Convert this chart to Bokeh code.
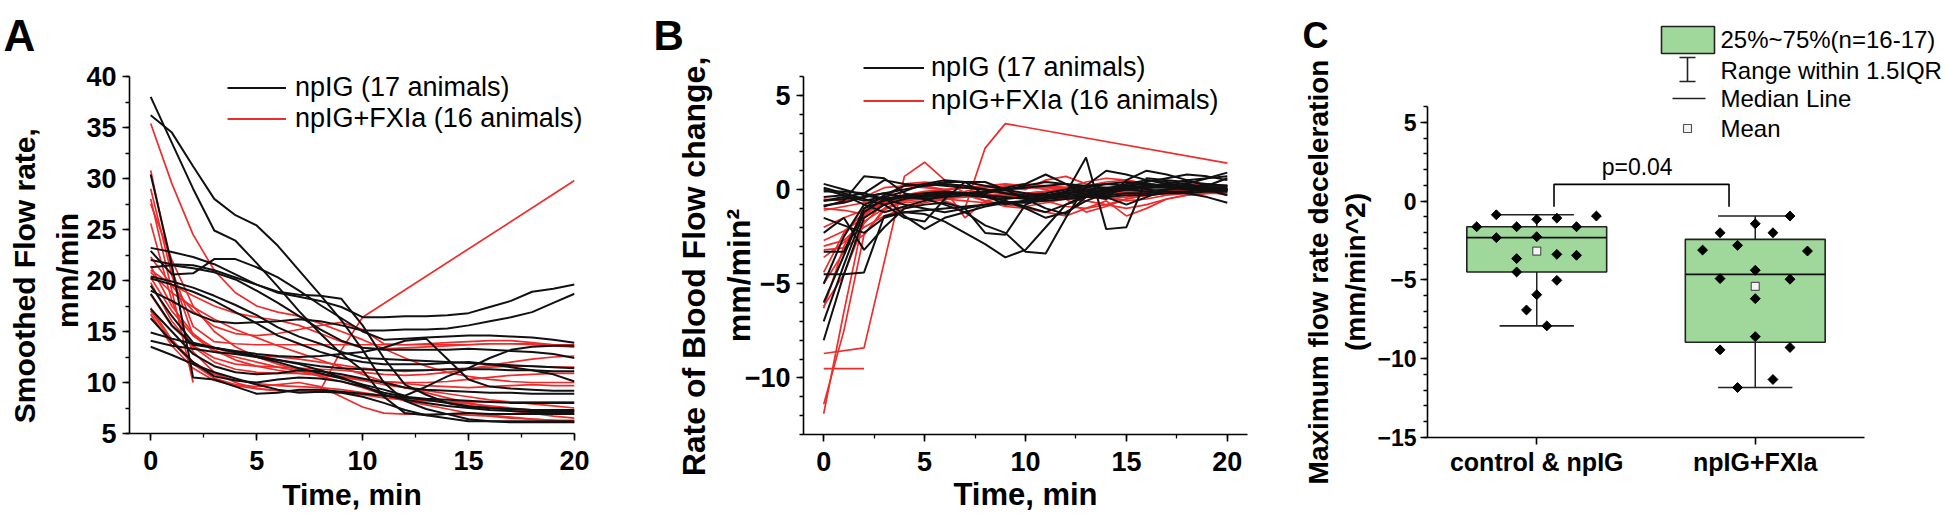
from bokeh.plotting import figure
from bokeh.models import (Range1d, FixedTicker, SingleIntervalTicker, Legend, LegendItem, GridBox)
from bokeh.embed import file_html
from bokeh.resources import INLINE
from bokeh.core.properties import value
import math

FONT = "Liberation Sans"
BLACK = "#111111"
RED = "#ee2c2c"
GREEN = "#a0d89b"
N = None

minutes = list(range(21))

# ---------- Panel A: smoothed flow rate (mm/min) ----------
flow_npig = [
    [38.0, 33.5, 29.0, 24.9, 23.9, 21.7, 19.4, 17.0, 14.8, 12.8, 11.2, 8.6, 7.0, 6.8, 6.9, 7.0, 6.9, 6.9, 6.9, 6.9, 6.9],
    [36.2, 34.5, 31.2, 28.0, 26.4, 25.4, 23.4, 21.0, 18.6, 16.1, 13.2, 10.0, 8.2, 7.4, 6.9, 6.4, 6.2, 6.1, 6.1, 6.1, 6.1],
    [30.4, 21.5, 10.5, 10.3, 9.6, 8.9, 9.0, 9.3, 9.3, 9.1, 8.9, 8.7, 8.5, 8.3, 8.0, 7.7, 7.5, 7.4, 7.3, 7.2, 7.2],
    [23.2, 22.8, 22.3, 21.6, 20.6, 19.6, 18.9, 18.6, 18.5, 18.2, 15.6, 12.4, 9.8, 8.8, 8.0, 7.6, 7.5, 7.4, 7.3, 7.3, 7.3],
    [22.0, 21.6, 21.5, 21.0, 20.3, 19.6, 18.8, 18.4, 18.0, 17.4, 16.4, 16.4, 16.5, 16.5, 16.6, 16.8, 17.4, 18.0, 18.9, 19.2, 19.6],
    [19.0, 18.0, 16.8, 16.0, 15.8, 15.9, 16.0, 16.2, 16.0, 15.6, 15.1, 15.1, 15.2, 15.2, 15.3, 15.6, 16.0, 16.4, 16.9, 17.8, 18.7],
    [22.9, 20.6, 20.7, 22.1, 22.1, 21.3, 20.3, 19.0, 17.6, 16.3, 15.0, 14.2, 14.3, 14.4, 14.5, 14.6, 14.6, 14.5, 14.4, 14.2, 13.9],
    [21.3, 21.5, 21.2, 20.8, 20.1, 19.0, 17.8, 16.5, 15.2, 14.1, 13.4, 13.2, 13.2, 13.2, 13.2, 13.3, 13.2, 13.1, 13.0, 12.8, 12.4],
    [20.4, 19.9, 19.3, 18.5, 17.6, 16.6, 15.4, 14.5, 13.8, 13.0, 12.4, 12.3, 12.2, 12.1, 12.0, 11.9, 11.8, 11.7, 11.6, 11.5, 11.4],
    [20.2, 19.6, 18.9, 18.0, 16.9, 15.8, 14.6, 13.8, 13.0, 12.4, 12.0, 11.8, 11.8, 11.8, 11.9, 12.0, 11.8, 11.5, 11.2, 10.8, 10.1],
    [19.5, 16.5, 13.9, 13.4, 13.0, 12.5, 12.0, 11.4, 10.9, 10.4, 9.8, 9.3, 8.7, 9.6, 10.6, 11.4, 12.4, 13.2, 13.5, 13.6, 13.6],
    [18.7, 15.6, 13.7, 13.4, 13.1, 12.8, 12.6, 12.5, 12.6, 12.8, 13.0, 13.4, 14.1, 14.3, 12.3, 10.3, 9.6, 9.4, 9.3, 9.2, 9.2],
    [17.2, 15.0, 12.8, 11.6, 11.0, 10.8, 10.9, 11.2, 11.1, 10.8, 10.4, 10.0, 9.5, 9.3, 9.2, 9.1, 9.0, 9.0, 8.9, 8.9, 8.9],
    [16.3, 14.0, 12.0, 10.6, 10.2, 10.0, 10.3, 10.5, 10.4, 10.1, 9.6, 9.0, 8.6, 8.4, 8.3, 8.2, 8.1, 8.0, 8.0, 8.0, 8.0],
    [14.9, 14.3, 13.8, 13.4, 13.0, 12.6, 12.2, 11.8, 11.2, 10.5, 9.7, 8.8, 8.3, 8.0, 7.7, 7.5, 7.3, 7.2, 7.1, 7.1, 7.1],
    [14.1, 13.6, 13.3, 13.0, 12.8, 12.5, 12.2, 11.9, 11.6, 11.4, 11.3, 11.2, 11.2, 11.2, 11.3, 11.3, 11.3, 11.2, 11.2, 11.1, 11.1],
    [13.5, 12.7, 11.8, 11.0, 10.4, 9.8, 9.3, 9.0, 9.1, 9.0, 8.6, 8.0, 7.3, 6.8, 6.5, 6.2, 6.2, 6.2, 6.2, 6.2, 6.2],
]
flow_fxia = [
    [35.4, 29.5, 24.5, 21.0, 18.8, 17.5, 16.9, 16.5, 15.8, 15.0, 14.2, 13.3, 12.4, 11.6, 11.0, 10.6, 10.3, 10.1, 10.0, 10.0, 10.0],
    [28.0, 19.0, 10.0, N, N, N, N, N, N, N, N, N, N, N, N, N, N, N, N, N, N],
    [30.8, 21.0, 15.5, 14.0, 13.8, 13.7, 13.7, 13.7, 13.7, 13.7, 13.7, 13.7, 13.7, 13.7, 13.7, 13.7, 13.8, 13.8, 13.8, 13.7, 13.7],
    [29.0, 20.5, 14.6, 13.0, 12.5, 12.0, 11.5, 11.1, 10.8, 10.5, 10.2, 9.8, 9.5, 9.2, 8.9, 8.6, 8.3, 8.1, 7.9, 7.7, 7.5],
    [25.6, 18.0, 13.0, 11.0, 10.0, 9.4, 9.2, 9.1, 9.2, 13.2, 16.4, N, N, N, N, N, N, N, N, N, 29.8],
    [27.5, 22.0, 17.5, 15.0, 13.5, 12.5, 11.8, 11.2, 10.6, 10.1, 9.5, 8.8, 8.2, 7.8, 7.4, 7.0, 6.8, 6.6, 6.4, 6.3, 6.3],
    [22.3, 19.5, 17.0, 15.5, 14.8, 14.6, 14.8, 15.2, 15.6, 15.9, 15.2, 13.8, 13.7, 13.8, 13.9, 14.0, 14.1, 14.1, 13.9, 13.7, 13.5],
    [21.4, 17.5, 14.8, 13.2, 12.2, 11.6, 11.2, 10.9, 10.7, 10.5, 10.3, 10.1, 9.9, 9.7, 9.6, 9.5, 9.6, 9.7, 9.8, 9.7, 9.7],
    [20.8, 18.8, 17.4, 16.2, 15.2, 14.4, 13.6, 12.9, 12.2, 11.5, 10.8, 10.1, 9.5, 9.0, 8.5, 8.0, 7.6, 7.2, 7.0, 6.7, 6.5],
    [20.3, 17.0, 14.6, 13.4, 12.8, 12.6, 12.5, 12.3, 12.0, 11.7, 11.4, 11.2, 11.1, 11.2, 11.3, 11.4, 11.5, 11.6, 11.6, 11.5, 11.5],
    [19.8, 16.0, 13.5, 12.0, 11.3, 11.0, 10.9, 10.9, 10.8, 10.6, 10.3, 10.1, 10.0, 10.0, 10.1, 10.3, 10.5, 10.7, 10.8, 10.9, 10.9],
    [18.6, 15.5, 13.6, 12.4, 11.8, 11.6, 11.5, 11.4, 11.3, 11.2, 11.0, 10.8, 10.7, 10.8, 11.0, 11.3, 11.7, 12.0, 12.3, 12.5, 12.6],
    [17.3, 14.2, 12.0, 10.8, 10.2, 9.9, 9.7, 9.6, 9.5, 9.3, 9.0, 8.7, 8.5, 8.3, 8.1, 7.9, 7.7, 7.5, 7.3, 7.1, 6.9],
    [17.0, 14.0, 11.8, 10.4, 9.8, 9.6, 9.8, 10.0, 9.6, 8.6, 7.6, 7.0, 6.9, 6.9, 6.9, 6.8, 6.7, 6.5, 6.4, 6.3, 6.1],
    [16.7, 13.6, 11.4, 10.2, 9.7, 9.4, 9.2, 9.2, 9.1, 9.0, 8.8, 8.5, 8.3, 8.2, 8.1, 8.1, 8.1, 8.1, 8.1, 8.1, 8.1],
    [21.0, 19.6, 18.5, 17.5, 16.8, 16.4, 16.1, 15.6, 14.8, 14.0, 13.4, 13.3, 13.4, 13.5, 13.6, 13.7, 13.8, 13.8, 13.7, 13.6, 13.5],
]

# ---------- Panel B: rate of blood flow change (mm/min^2) ----------
rate_npig = [
    [-8.0, -4.5, -1.5, -0.8, -0.5, -0.3, -0.2, -0.3, -0.4, -0.5, -0.4, -0.3, -0.2, -0.1, 0.0, 0.1, 0.2, 0.2, 0.1, 0.0, 0.0],
    [-7.0, -4.0, -1.2, -0.5, -0.3, -0.2, -0.1, -0.2, -0.3, -0.4, -0.5, -0.4, -0.3, -0.2, -0.1, 0.0, 0.1, 0.1, 0.0, -0.1, -0.1],
    [-6.0, -3.5, -1.0, -0.6, -0.4, -0.4, -0.3, -0.2, -0.1, 0.0, 0.1, 0.2, 0.3, 0.2, 0.1, 0.0, -0.1, 0.0, 0.1, 0.2, 0.2],
    [-5.0, -2.5, -0.8, -0.4, -1.4, -2.1, -1.5, -1.2, -0.9, -0.7, -0.6, -0.5, -0.4, -0.3, -0.3, -0.2, -0.2, -0.1, -0.1, 0.0, 0.0],
    [-4.5, -4.5, -4.4, -1.4, -1.2, -1.1, -1.0, -0.9, -0.8, -0.7, -0.7, -0.6, -0.5, -0.4, -0.4, -0.3, -0.3, -0.2, -0.2, -0.1, -0.1],
    [-3.3, -3.3, -1.0, -0.3, 0.2, 0.3, 0.2, 0.1, 0.0, -0.2, -0.4, -0.3, -0.1, 0.1, 0.3, 0.4, 0.3, 0.2, 0.1, 0.0, 0.0],
    [-2.3, -1.5, -3.2, -2.0, -1.0, -0.8, -0.7, -1.0, -2.3, -2.4, -0.8, -0.4, -0.2, 0.0, 0.1, 0.2, 0.3, 0.2, 0.1, 0.0, 0.0],
    [-1.5, -1.9, -2.3, -1.5, -1.2, -1.3, -1.7, -2.3, -2.9, -3.6, -3.2, -2.0, -0.8, -0.3, 0.0, 0.3, 0.5, 0.4, 0.3, 0.1, 0.0],
    [-0.9, -0.6, 0.7, 0.6, -0.2, -0.5, -0.8, -1.2, -1.9, -2.3, -3.3, -3.4, -1.5, 0.2, 1.0, 0.8, 0.5, 0.3, 0.2, 0.1, 0.1],
    [-0.6, -0.4, -0.2, 0.5, 0.3, 0.2, 0.4, 0.4, -0.3, -0.8, -0.6, -0.5, -0.2, 1.7, -2.1, -2.0, 0.6, 0.5, 0.4, 0.3, 0.2],
    [0.3, 0.0, -0.3, -0.5, -0.4, -0.3, -0.2, -0.2, -0.1, 0.1, 0.3, 0.8, 0.3, -0.3, -0.5, 0.5, 1.0, 0.8, 0.5, 0.2, 0.6],
    [0.1, -0.2, -0.5, -0.8, -1.5, -1.7, -0.5, 0.4, 0.4, 0.0, -0.5, -1.0, -1.3, -0.4, 0.0, 0.2, 0.4, 0.6, 0.8, 0.7, 0.5],
    [-0.4, -0.3, -0.8, -1.2, -0.9, -0.6, -0.3, -0.2, -0.4, -0.6, -0.9, -1.2, -0.8, -0.4, -0.2, 0.0, 0.1, 0.2, 0.1, 0.0, -0.3],
    [-0.6, -0.5, -0.4, -0.2, 0.0, 0.2, 0.3, 0.2, 0.0, -0.2, -0.3, -0.2, 0.0, 0.2, 0.3, 0.2, 0.0, -0.1, -0.2, -0.4, -0.7],
    [-0.85, -0.7, -0.4, -0.2, -0.4, -0.5, -0.4, -0.3, -0.2, 0.0, 0.2, 0.4, 0.3, 0.0, -0.4, -0.8, -0.4, 0.0, 0.3, 0.6, 0.9],
    [-0.1, -0.1, -0.2, -0.5, -0.8, -1.0, -1.2, -1.0, -0.8, -0.6, -1.0, -1.5, -1.2, -0.6, -0.2, 0.0, 0.1, 0.2, 0.2, 0.2, 0.2],
    [0.0, -0.3, -0.6, -0.4, -0.1, 0.3, 0.5, 0.4, 0.2, 0.0, -0.2, -0.3, -0.4, -0.3, -0.1, 0.1, 0.2, 0.3, 0.5, 0.6, 0.7],
]
rate_fxia = [
    [-11.9, -6.5, -1.4, -0.6, -0.3, -0.2, -0.2, -0.3, -0.4, -0.3, -0.2, -0.1, 0.0, 0.0, -0.1, -0.2, -0.3, -0.2, -0.1, 0.0, 0.0],
    [-11.4, -7.5, -2.4, -1.0, -0.6, -0.4, -0.3, -0.2, -0.1, 0.0, 0.1, 0.2, 0.1, 0.0, -0.1, 0.0, 0.1, 0.2, 0.2, 0.1, 0.1],
    [-9.5, -9.5, -9.5, N, N, N, N, N, N, N, N, N, N, N, N, N, N, N, N, N, N],
    [-8.7, N, -8.4, N, 0.7, 1.45, 0.5, -0.2, -0.6, -0.9, -1.0, -1.2, -1.4, -1.0, -0.6, -1.4, -1.0, -0.5, -0.3, -0.2, -0.2],
    [-6.3, -3.0, -1.2, -0.8, -0.6, -0.5, -0.6, -1.0, 2.2, 3.5, N, N, N, N, N, N, N, N, N, N, 1.4],
    [-6.2, -4.5, -1.8, -0.7, -0.4, -0.3, -0.2, -0.2, -0.1, 0.0, 0.1, 0.1, 0.1, 0.0, 0.0, -0.1, -0.1, 0.0, 0.0, 0.0, -0.1],
    [-5.0, -3.3, -1.2, -0.5, -0.3, -0.2, -0.2, -0.3, -0.3, -0.3, -0.4, -0.3, -0.2, -0.2, -0.3, -0.2, -0.1, 0.0, 0.0, 0.1, 0.1],
    [-4.4, -2.3, -1.2, -0.4, 0.3, 0.2, 0.0, -0.3, -0.6, -0.8, -0.9, -0.7, -0.5, -0.3, -0.2, -0.2, -0.1, -0.1, 0.0, 0.0, 0.0],
    [-3.2, -3.1, -2.4, -1.1, -0.5, -0.4, -0.5, -0.6, -0.7, -0.8, -0.6, -0.4, -0.5, -0.6, -0.8, -1.0, -0.8, -0.5, -0.3, -0.2, -0.1],
    [-3.0, -2.7, -1.7, -1.0, -0.7, -0.6, -0.5, -0.4, -0.3, -0.2, -0.2, -0.3, -0.5, -1.2, -0.9, -0.5, -0.3, -0.2, -0.1, 0.0, 0.0],
    [-2.7, -2.2, -1.5, -0.8, -0.5, -0.3, -0.2, -0.1, 0.1, 0.2, 0.3, 0.2, 0.1, 0.2, 0.4, 0.5, 0.3, 0.2, 0.1, 0.0, 0.0],
    [-2.0, -1.5, -1.1, -0.7, -0.4, -0.2, 0.0, 0.1, 0.0, -0.1, -0.2, -0.1, 0.1, 0.4, 0.6, 0.5, 0.3, 0.2, 0.0, -0.1, -0.3],
    [-1.1, -0.9, -0.7, -0.5, 0.3, 0.4, 0.3, 0.2, 0.1, 0.1, 0.0, 0.5, 0.7, 0.3, 0.0, -0.2, -0.3, -0.2, -0.1, 0.0, 0.0],
    [-1.0, -1.1, -1.3, -0.7, -0.3, -0.1, 0.0, 0.1, 0.2, 0.3, 0.2, 0.0, -0.2, -0.4, -0.5, -0.4, -0.2, 0.0, 0.2, 0.3, 0.2],
    [-0.5, -0.6, -0.4, 0.1, 0.2, 0.1, 0.0, -1.5, -0.6, -0.4, -0.3, -0.6, -0.9, -1.0, -0.8, -0.5, -0.3, -0.2, -0.1, 0.0, 0.0],
    [-3.6, -2.8, -2.0, -1.4, -1.0, -0.7, -0.5, -0.3, -0.2, 0.0, 0.1, 0.1, 0.0, -0.2, -0.4, -0.6, -0.5, -0.3, -0.2, -0.1, 0.0],
]

# ---------- Panel C: maximum flow-rate deceleration (mm/min^2) ----------
groups = ["control & npIG", "npIG+FXIa"]
group_pos = [1, 2]
ctrl_offset = [-0.185, 0.0, 0.092, 0.273, -0.275, -0.092, 0.182, -0.185, 0.0, -0.092, 0.092, 0.182, -0.092, 0.092, 0.0, -0.047, 0.046]
ctrl_values = [-0.87, -1.16, -1.08, -0.95, -1.63, -1.63, -1.63, -2.32, -2.26, -3.65, -3.38, -3.44, -4.50, -5.03, -5.94, -6.91, -7.92]
fxia_offset = [0.159, 0.0, -0.161, 0.081, -0.241, -0.081, 0.239, 0.0, -0.161, 0.159, 0.0, 0.0, -0.161, 0.159, 0.081, -0.081]
fxia_values = [-0.95, -1.44, -2.01, -2.01, -3.11, -2.81, -3.17, -4.39, -4.92, -4.96, -6.19, -8.60, -9.44, -9.29, -11.32, -11.83]
box_q1 = [-4.50, -8.96]
box_q3 = [-1.63, -2.43]
box_median = [-2.32, -4.65]
whisker_low = [-7.92, -11.83]
whisker_high = [-0.87, -0.95]
box_mean = [-3.17, -5.41]
p_value_text = "p=0.04"
legend_c_labels = ["25%~75%(n=16-17)", "Range within 1.5IQR", "Median Line", "Mean"]


def to_xy(series):
    xs, ys = [], []
    for s in series:
        pts = [(t, v) for t, v in zip(minutes, s) if v is not None]
        xs.append([q[0] for q in pts])
        ys.append([q[1] for q in pts])
    return xs, ys


def style(p, tick_px, label_px):
    p.grid.visible = False
    p.outline_line_color = None
    p.frame_align = False
    for ax in (p.xaxis[0], p.yaxis[0]):
        ax.axis_line_color = "black"
        ax.axis_line_width = 1.6
        ax.major_tick_line_color = "black"
        ax.major_tick_line_width = 1.6
        ax.minor_tick_line_color = "black"
        ax.minor_tick_line_width = 1.3
        ax.major_tick_in = 0
        ax.major_tick_out = 7
        ax.minor_tick_in = 0
        ax.minor_tick_out = 4
        ax.major_label_text_font = FONT
        ax.major_label_text_font_style = "bold"
        ax.major_label_text_font_size = tick_px
        ax.major_label_text_color = "black"
        ax.axis_label_text_font = FONT
        ax.axis_label_text_font_style = "bold"
        ax.axis_label_text_font_size = label_px
        ax.axis_label_text_color = "black"


# ================= Panel A =================
pA = figure(width=640, height=519, x_range=Range1d(-1, 20), y_range=Range1d(5, 40),
            min_border_left=129, min_border_right=66, min_border_top=76, min_border_bottom=86,
            output_backend="svg", toolbar_location=None)
style(pA, "27px", "30px")
pA.xaxis.ticker = SingleIntervalTicker(interval=5, num_minor_ticks=2)
pA.yaxis.ticker = SingleIntervalTicker(interval=5, num_minor_ticks=2)
pA.xaxis.axis_label = "Time, min"
pA.xaxis.major_label_standoff = 10
pA.yaxis.major_label_standoff = 6
pA.xaxis.axis_label_standoff = 5

xs, ys = to_xy(flow_fxia)
pA.multi_line(xs, ys, line_color=RED, line_width=1.7)
xs, ys = to_xy(flow_npig)
pA.multi_line(xs, ys, line_color=BLACK, line_width=2)

# ================= Panel B =================
pB = figure(width=660, height=519, x_range=Range1d(-1, 21), y_range=Range1d(-13, 6),
            min_border_left=163, min_border_right=53, min_border_top=76, min_border_bottom=85,
            output_backend="svg", toolbar_location=None)
style(pB, "27px", "31px")
pB.xaxis.ticker = SingleIntervalTicker(interval=5, num_minor_ticks=2)
pB.yaxis.ticker = SingleIntervalTicker(interval=5, num_minor_ticks=5)
pB.xaxis.axis_label = "Time, min"
pB.xaxis.major_label_standoff = 10
pB.yaxis.major_label_standoff = 6
pB.xaxis.axis_label_standoff = 3

xs, ys = to_xy(rate_fxia)
pB.multi_line(xs, ys, line_color=RED, line_width=1.7)
xs, ys = to_xy(rate_npig)
pB.multi_line(xs, ys, line_color=BLACK, line_width=2)

# ================= Panel C =================
pC = figure(width=646, height=519, x_range=Range1d(0.5, 2.5), y_range=Range1d(-15, 6),
            min_border_left=121, min_border_right=82, min_border_top=106, min_border_bottom=82,
            output_backend="svg", toolbar_location=None)
style(pC, "23px", "28px")
pC.xaxis.ticker = FixedTicker(ticks=group_pos, minor_ticks=[])
pC.xaxis.major_label_overrides = {pos: name for pos, name in zip(group_pos, groups)}
pC.xaxis.major_label_text_font_size = "25px"
pC.yaxis.ticker = SingleIntervalTicker(interval=5, num_minor_ticks=5)
pC.yaxis.axis_label = "Maximum flow rate deceleration\n(mm/min^2)"
pC.xaxis.major_label_standoff = 3
pC.yaxis.major_label_standoff = 4
pC.yaxis.axis_label_standoff = 3

half = 0.32
cap = 0.17
pC.quad(left=[g - half for g in group_pos], right=[g + half for g in group_pos],
        bottom=box_q1, top=box_q3, fill_color=GREEN, line_color="#222222", line_width=1.6)
pC.segment(x0=[g - half for g in group_pos], x1=[g + half for g in group_pos],
           y0=box_median, y1=box_median, line_color="#111111", line_width=1.6)
pC.segment(x0=group_pos + group_pos, x1=group_pos + group_pos,
           y0=box_q3 + box_q1, y1=whisker_high + whisker_low, line_color="#222222", line_width=1.5)
pC.segment(x0=[g - cap for g in group_pos] * 2, x1=[g + cap for g in group_pos] * 2,
           y0=whisker_high + whisker_low, y1=whisker_high + whisker_low, line_color="#222222", line_width=1.6)
pC.scatter([1 + o for o in ctrl_offset], ctrl_values, marker="square", angle=math.pi / 4,
           size=7, fill_color="black", line_color="black")
pC.scatter([2 + o for o in fxia_offset], fxia_values, marker="square", angle=math.pi / 4,
           size=7, fill_color="black", line_color="black")
pC.scatter(group_pos, box_mean, marker="square", size=8, fill_color="#f4f4f4",
           line_color="#555555", line_width=1.2)

bx0, bx1, btop = 1.079, 1.88, 1.06
pC.line([bx0, bx0, bx1, bx1], [-0.36, btop, btop, -0.36], line_color="black", line_width=1.6)
pC.text(x=[(bx0 + bx1) / 2 - 0.02], y=[2.17], text=[p_value_text], text_font=value(FONT),
        text_font_size="23px", text_align="center", text_baseline="middle", text_color="black")

# ================= Overlay (letters, y titles of A/B, legends; page pixel coordinates) =================
ov = figure(width=1946, height=519, x_range=Range1d(0, 1946), y_range=Range1d(519, 0),
            min_border_left=0, min_border_right=0, min_border_top=0, min_border_bottom=0,
            x_axis_type=None, y_axis_type=None, output_backend="svg", toolbar_location=None,
            background_fill_alpha=0, border_fill_alpha=0, outline_line_color=None)
ov.grid.visible = False
ov.frame_align = False

ov.text(x=[3], y=[35], text=["A"], text_font=value(FONT), text_font_style="bold",
        text_font_size="44px", text_baseline="alphabetic", text_color="black")
ov.text(x=[653], y=[35], text=["B"], text_font=value(FONT), text_font_style="bold",
        text_font_size="42px", text_baseline="alphabetic", text_color="black")
ov.text(x=[1302], y=[35], text=["C"], text_font=value(FONT), text_font_style="bold",
        text_font_size="36px", text_baseline="alphabetic", text_color="black")

# vertical axis titles of panels A and B
ov.text(x=[24, 67], y=[271, 270], text=["Smoothed  Flow rate,", "mm/min"], angle=math.pi / 2,
        text_font=value(FONT), text_font_style="bold", text_font_size="30px",
        text_align="center", text_baseline="alphabetic", text_color="black")
ov.text(x=[693, 738], y=[266, 275], text=["Rate of Blood Flow change,", "mm/min\u00b2"], angle=math.pi / 2,
        text_font=value(FONT), text_font_style="bold", text_font_size="32px",
        text_align="center", text_baseline="alphabetic", text_color="black")

lk = ov.line(x=[-60, -50], y=[-60, -60], line_color=BLACK, line_width=2)
lr = ov.line(x=[-60, -50], y=[-70, -70], line_color=RED, line_width=1.8)
legA = Legend(items=[LegendItem(label="npIG (17 animals)", renderers=[lk]),
                     LegendItem(label="npIG+FXIa (16 animals)", renderers=[lr])],
              location=(227, 385), orientation="vertical",
              label_text_font=FONT, label_text_font_size="27px", label_text_color="black",
              glyph_width=59, glyph_height=31, label_height=31, label_standoff=9,
              spacing=0, padding=0, margin=0, border_line_color=None, background_fill_alpha=0)
legB = Legend(items=[LegendItem(label="npIG (17 animals)", renderers=[lk]),
                     LegendItem(label="npIG+FXIa (16 animals)", renderers=[lr])],
              location=(863, 402), orientation="vertical",
              label_text_font=FONT, label_text_font_size="27px", label_text_color="black",
              glyph_width=61, glyph_height=33, label_height=33, label_standoff=7,
              spacing=0, padding=0, margin=0, border_line_color=None, background_fill_alpha=0)
ov.add_layout(legA)
ov.add_layout(legB)

# panel C legend (box, 1.5 IQR range, median line, mean)
ov.quad(left=[1661], right=[1714], top=[26], bottom=[53], fill_color=GREEN,
        line_color="#222222", line_width=1.6)
ov.segment(x0=[1687, 1679, 1679], x1=[1687, 1695, 1695], y0=[57, 57, 81], y1=[81, 57, 81],
           line_color="#222222", line_width=1.6)
ov.segment(x0=[1672], x1=[1705], y0=[98], y1=[98], line_color="#222222", line_width=1.6)
ov.scatter([1687], [128], marker="square", size=8, fill_color="#f4f4f4",
           line_color="#555555", line_width=1.2)
ov.text(x=[1720] * 4, y=[39, 70, 98, 128], text=legend_c_labels,
        text_font=value(FONT), text_font_size="24px", text_align="left",
        text_baseline="middle", text_color="black")

grid = GridBox(children=[(pA, 0, 0), (pB, 0, 1), (pC, 0, 2), (ov, 0, 0, 1, 3)], spacing=0)
open("out.html", "w").write(file_html(grid, INLINE))
